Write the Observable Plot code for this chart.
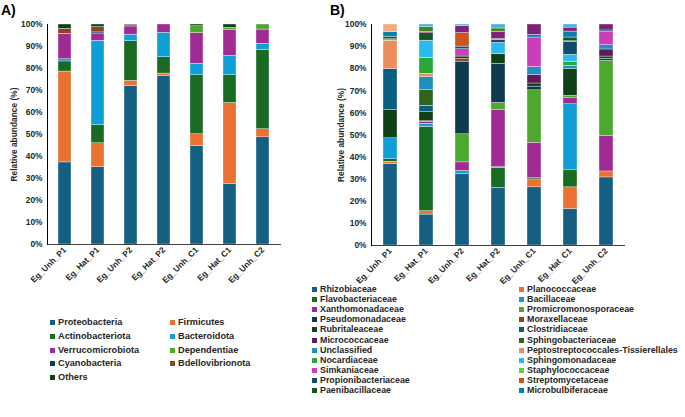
<!DOCTYPE html>
<html>
<head>
<meta charset="utf-8">
<script src="https://cdn.jsdelivr.net/npm/d3@7"></script>
<script src="https://cdn.jsdelivr.net/npm/@observablehq/plot@0.6"></script>
<style>
  body { margin: 0; background: #fff; }
  #root { position: relative; width: 685px; height: 417px; overflow: hidden; background: #fff;
          font-family: "Liberation Sans", Arial, sans-serif; color: #262626; }
  .panel { position: absolute; top: 0; }
  .tag { position: absolute; font-weight: bold; font-size: 14px; color: #000; }
  .leg { position: absolute; font-weight: bold; white-space: nowrap; line-height: 1; }
  .leg i { display: inline-block; width: 5px; height: 5px; margin-right: 3px; vertical-align: 0px; }
</style>
</head>
<body>
<div id="root"></div>
<script>
// Samples on the x axis (shared by both panels)
const samples = ["Eg_Unh_P1", "Eg_Hat_P1", "Eg_Unh_P2", "Eg_Hat_P2", "Eg_Unh_C1", "Eg_Hat_C1", "Eg_Unh_C2"];

// Panel A: phylum-level relative abundance (%), one array per phylum, in sample order
const phyla = ["Proteobacteria", "Firmicutes", "Actinobacteriota", "Bacteroidota", "Verrucomicrobiota",
               "Dependentiae", "Cyanobacteria", "Bdellovibrionota", "Others"];
const proteobacteria    = [37.3, 35.1, 72.1, 76.5, 44.8, 27.5, 48.7];
const firmicutes        = [41.3, 10.9,  2.3,  1.2,  5.3, 36.8,  3.7];
const actinobacteriota  = [ 4.6,  8.2, 18.0,  7.4, 26.8, 12.6, 36.1];
const bacteroidota      = [ 1.0, 38.4,  3.0, 11.1,  5.2,  8.8,  2.7];
const verrucomicrobiota = [11.6,  3.3,  3.7,  3.8, 14.0, 11.7,  6.5];
const dependentiae      = [ 0,    0,    0,    0,    3.1,  1.1,  2.3];
const cyanobacteria     = [ 0,    0.5,  0,    0,    0,    0,    0  ];
const bdellovibrionota  = [ 2.2,  2.4,  0.5,  0,    0,    0,    0  ];
const othersPhyla       = [ 2.0,  1.2,  0.4,  0,    0.8,  1.5,  0  ];
const phylaValues = [proteobacteria, firmicutes, actinobacteriota, bacteroidota, verrucomicrobiota,
                     dependentiae, cyanobacteria, bdellovibrionota, othersPhyla];

// Panel B: family-level relative abundance (%); the last four minor groups have no legend entry
const families = ["Rhizobiaceae", "Planococcaceae", "Flavobacteriaceae", "Bacillaceae", "Xanthomonadaceae",
  "Promicromonosporaceae", "Pseudomonadaceae", "Moraxellaceae", "Rubritaleaceae", "Clostridiaceae",
  "Micrococcaceae", "Sphingobacteriaceae", "Unclassified", "Peptostreptococcales-Tissierellales",
  "Nocardiaceae", "Sphingomonadaceae", "Simkaniaceae", "Staphylococcaceae", "Propionibacteriaceae",
  "Streptomycetaceae", "Paenibacillaceae", "Microbulbiferaceae",
  "Minor taxa 1", "Minor taxa 2", "Minor taxa 3", "Minor taxa 4"];
const familiesInLegend = 22;
const familyValues = [
  [37.0, 14.0, 32.3, 26.1, 26.3, 16.5, 30.8], // Rhizobiaceae
  [ 0.9,  1.5,  0,    0,    3.6,  9.8,  2.7], // Planococcaceae
  [ 1.1, 38.2,  0,    8.9,  0.5,  7.7,  0  ], // Flavobacteriaceae
  [ 9.5,  1.4,  1.4,  0.4,  0,   29.9,  0  ], // Bacillaceae
  [ 0,    0.8,  3.9, 25.8, 16.1,  2.7, 16.2], // Xanthomonadaceae
  [ 0,    0,   12.7,  3.3, 23.7,  1.1, 33.8], // Promicromonosporaceae
  [ 0,    0,   32.9, 17.7,  1.7,  0,    1.0], // Pseudomonadaceae
  [ 0,    0.3,  1.2,  0,    0,    0,    0  ], // Moraxellaceae
  [12.7,  4.1,  1.1,  4.4,  1.4, 12.2,  1.0], // Rubritaleaceae
  [18.6,  2.9,  0,    0,    0,    0,    0  ], // Clostridiaceae
  [ 0,    0,    0,    0,    3.9,  0,    3.2], // Micrococcaceae
  [ 0,    7.1,  0,    0,    0,    0,    0  ], // Sphingobacteriaceae
  [ 0,    5.9,  0,    0,    3.5,  1.4,  1.9], // Unclassified
  [12.8,  1.5,  0,    0,    0,    0,    0  ], // Peptostreptococcales-Tissierellales
  [ 0,    7.1,  0,    0,    0,    1.9,  0  ], // Nocardiaceae
  [ 0,    7.9,  0,    5.1,  0,    3.1,  0  ], // Sphingomonadaceae
  [ 0,    0,    3.3,  0,   13.4,  0,    6.0], // Simkaniaceae
  [ 0.7,  0,    0,    0,    0,    0,    0  ], // Staphylococcaceae
  [ 0,    0,    1.2,  1.3,  0,    5.7,  0.7], // Propionibacteriaceae
  [ 0,    0,    6.1,  0.4,  0,    0.4,  0  ], // Streptomycetaceae
  [ 1.2,  3.3,  0,    0,    0,    1.7,  0  ], // Paenibacillaceae
  [ 2.1,  0,    0,    0,    1.2,  2.7,  0  ], // Microbulbiferaceae
  [ 0,    0.6,  3.1,  3.2,  4.7,  1.8,  2.7], // Minor taxa 1
  [ 0,    2.3,  0,    1.6,  0,    0,    0  ], // Minor taxa 2
  [ 0,    1.1,  0.8,  1.8,  0,    1.4,  0  ], // Minor taxa 3
  [ 3.4,  0,    0,    0,    0,    0,    0  ]  // Minor taxa 4
];

// Y-axis ticks (percent)
const yTicks = [0, 10, 20, 30, 40, 50, 60, 70, 80, 90, 100];

// Office theme series palette (accents, then darker / lighter variants)
const palette = [
  "#156082", "#E97132", "#196B24", "#0F9ED5", "#A02B93", "#4EA72E",
  "#0D3A4E", "#8C441E", "#0F4016", "#095F80", "#601A58", "#2F641C",
  "#1F8EC0", "#ED8D5B", "#27A838", "#2CB9F0", "#CB3DBB", "#69CC45",
  "#114D68", "#CD5516", "#14561D", "#0C7EAB", "#802275", "#3F8625",
  "#46B1E1", "#F2AA84"
];

function toRows(names, values) {
  const rows = [];
  names.forEach((name, i) => {
    samples.forEach((s, j) => {
      if (values[i][j] > 0) rows.push({sample: s, taxon: name, value: values[i][j]});
    });
  });
  return rows;
}

function stackedChart(names, values, opts) {
  return Plot.plot({
    width: opts.width,
    height: opts.height,
    marginLeft: opts.marginLeft,
    marginRight: opts.marginRight,
    marginTop: opts.marginTop,
    marginBottom: opts.marginBottom,
    style: {fontFamily: "'Liberation Sans', Arial, sans-serif", fontSize: "8.4px", fontWeight: "bold", color: "#262626", background: "transparent"},
    x: {domain: samples, paddingInner: 0.6, paddingOuter: 0.3},
    y: {domain: [0, 100]},
    color: {domain: names, range: palette.slice(0, names.length)},
    marks: [
      Plot.barY(toRows(names, values), {x: "sample", y: "value", fill: "taxon", stroke: "white", strokeWidth: 0.35}),
      Plot.axisY({ticks: yTicks, tickFormat: d => d + "%", tickSize: 0, tickPadding: 5,
                  label: "Relative abundance (%)", labelAnchor: "center", labelArrow: "none", labelOffset: opts.labelOffset}),
      Plot.axisX({tickRotate: -45, tickSize: 0, tickPadding: 4, label: null}),
      Plot.ruleY([0], {stroke: "#404040", strokeWidth: 1}),
      Plot.frame({anchor: "left", stroke: "#000", strokeWidth: 1})
    ]
  });
}

const root = document.getElementById("root");

const chartA = stackedChart(phyla, phylaValues,
  {width: 290, height: 300, marginLeft: 47, marginRight: 9, marginTop: 24, marginBottom: 56, labelOffset: 36});
chartA.classList.add("panel");
chartA.style.left = "0px";
root.appendChild(chartA);

const chartB = stackedChart(families, familyValues,
  {width: 300, height: 300, marginLeft: 41, marginRight: 5, marginTop: 24, marginBottom: 55, labelOffset: 33});
chartB.classList.add("panel");
chartB.style.left = "330px";
root.appendChild(chartB);

// Panel tags
function addTag(text, x, y) {
  const d = document.createElement("div");
  d.className = "tag"; d.textContent = text;
  d.style.left = x + "px"; d.style.top = y + "px";
  root.appendChild(d);
}
addTag("A)", 1, 2);
addTag("B)", 330, 2);

// Two-column legends, filled row by row
function addLegend(names, count, x0, x1, y0, dy, size) {
  for (let i = 0; i < count; i++) {
    const d = document.createElement("div");
    d.className = "leg";
    d.style.fontSize = size + "px";
    const sw = document.createElement("i");
    sw.style.background = palette[i];
    d.appendChild(sw);
    d.appendChild(document.createTextNode(names[i]));
    d.style.left = (i % 2 === 0 ? x0 : x1) + "px";
    d.style.top = (y0 + Math.floor(i / 2) * dy) + "px";
    root.appendChild(d);
  }
}
addLegend(phyla, phyla.length, 50, 170, 318, 13.8, 9.2);
addLegend(families, familiesInLegend, 312, 519, 285, 10.1, 8.9);
</script>
</body>
</html>
